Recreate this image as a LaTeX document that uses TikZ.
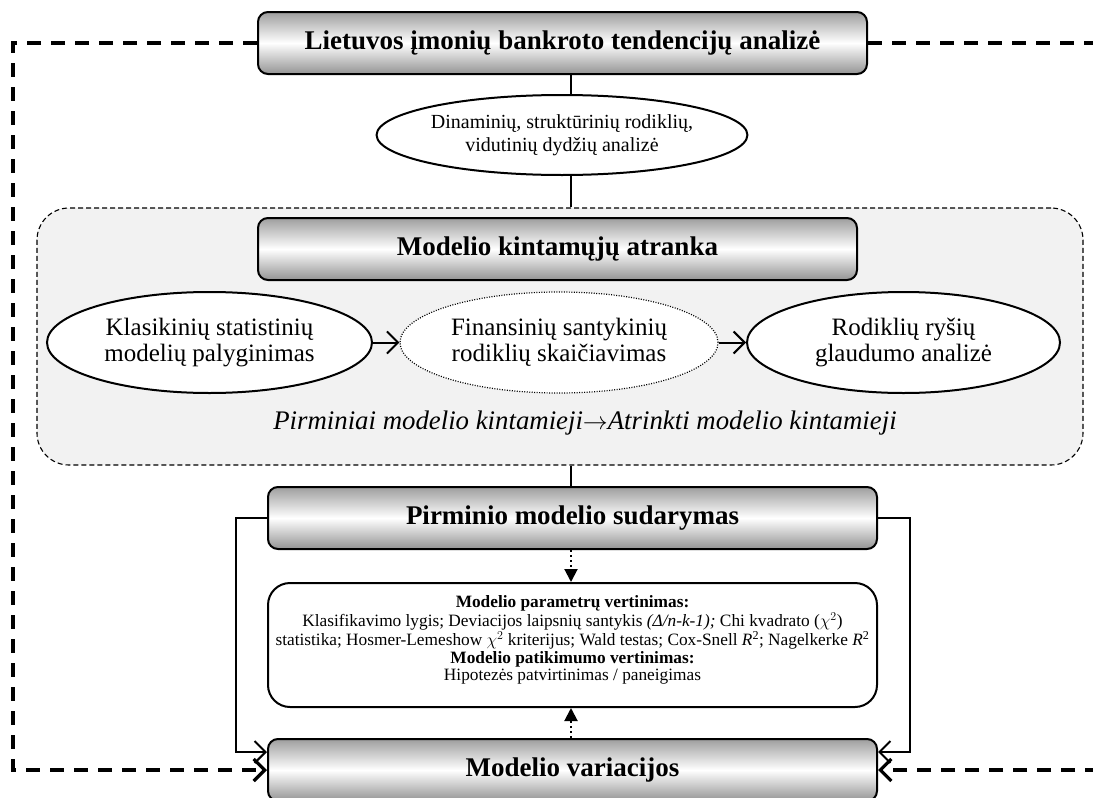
\documentclass[tikz,border=0pt]{standalone}
\usepackage{fontspec}
\setmainfont{Liberation Serif}
\usetikzlibrary{arrows.meta,shapes.geometric,calc}

\tikzset{
  gradbox/.style={draw=black, line width=2pt, rounded corners=10pt,
    top color=black!38, bottom color=black!42, middle color=white,
    inner sep=0pt, font=\fontsize{27}{30}\selectfont\bfseries},
  oval/.style={ellipse, draw=black, line width=2pt, fill=white, align=center,
    inner sep=0pt, font=\fontsize{25}{25.5}\selectfont},
  region/.style={draw=black, line width=1.1pt, dash pattern=on 5pt off 3pt,
    rounded corners=32pt, fill=black!5, inner sep=0pt},
  evalbox/.style={draw=black, line width=2pt, rounded corners=22pt, fill=white,
    align=center, inner sep=0pt, font=\fontsize{17.3}{17.5}\selectfont},
  link/.style={draw=black, line width=2pt},
  loopline/.style={draw=black, line width=3.2pt, dash pattern=on 14pt off 10pt},
  barb/.style={-{Straight Barb[length=11pt,width=22pt]}},
  dotlink/.style={draw=black, line width=2pt, dash pattern=on 2pt off 3pt,
    -{Triangle[length=13pt,width=13pt]}},
}

\begin{document}
\begin{tikzpicture}[x=1pt,y=-1pt]
\useasboundingbox (0,0) rectangle (1093,798);

% vertical spine and turning points of the feedback loops
\coordinate (spine) at (571,0);
\coordinate (lturn) at (13,400);
\coordinate (rturn) at (1100,400);

% variable selection area
\node[region, minimum width=1046pt, minimum height=257pt] (sel) at (560,336.5) {};

% main boxes
\node[gradbox, minimum width=609pt, minimum height=62pt] (top) at (562.5,43)
  {Lietuvos įmonių bankroto tendencijų analizė};
\node[oval, minimum width=300pt, minimum height=80pt, font=\fontsize{20}{23}\selectfont]
  (dyn) at (562,135) {Dinaminių, struktūrinių rodiklių,\\vidutinių dydžių analizė};
\node[gradbox, minimum width=599pt, minimum height=62pt] (pick) at (557.5,249)
  {Modelio kintamųjų atranka};

\node[oval, minimum width=325pt, minimum height=101pt] (cls) at (209.5,342.5)
  {Klasikinių statistinių\\modelių palyginimas};
\node[oval, minimum width=318pt, minimum height=101pt, dash pattern=on 1pt off 1.5pt,
  line width=1.2pt] (fin) at (559,342.5)
  {Finansinių santykinių\\rodiklių skaičiavimas};
\node[oval, minimum width=313pt, minimum height=101pt] (rel) at (903.5,342.5)
  {Rodiklių ryšių\\glaudumo analizė};

\node[font=\fontsize{26.8}{28}\selectfont, inner sep=0pt] (note) at (585,423)
  {\textit{Pirminiai modelio kintamieji}$\rightarrow$\textit{Atrinkti modelio kintamieji}};

\node[gradbox, minimum width=609pt, minimum height=62pt] (prim) at (572.5,518)
  {Pirminio modelio sudarymas};
\node[evalbox, minimum width=609pt, minimum height=124pt] (eval) at (572.5,645)
  {\textbf{Modelio parametrų vertinimas:}\\
   Klasifikavimo lygis; Deviacijos laipsnių santykis \textit{(Δ/n-k-1);} Chi kvadrato ($\chi^2$)\\
   statistika; Hosmer-Lemeshow $\chi^2$ kriterijus; Wald testas; Cox-Snell \textit{R}\textsuperscript{2}; Nagelkerke \textit{R}\textsuperscript{2}\\
   \textbf{Modelio patikimumo vertinimas:}\\
   Hipotezės patvirtinimas / paneigimas\\[-4pt]};
\node[gradbox, minimum width=609pt, minimum height=62pt] (var) at (572.5,770)
  {Modelio variacijos};

% spine connectors
\draw[link] (top.south -| spine) -- (dyn.north -| spine);
\draw[link] (dyn.south -| spine) -- (sel.north -| spine);
\draw[link] (sel.south -| spine) -- (prim.north -| spine);
\draw[dotlink] (prim.south -| spine) -- (eval.north -| spine);
\draw[dotlink] (var.north -| spine) -- (eval.south -| spine);

% selection steps
\draw[link, barb] (cls.east) -- (fin.west);
\draw[link, barb] (fin.east) -- (rel.west);

% side loops into the variation box
\draw[link, barb] (prim.west) -- ++(-31,0) |- ($(var.north west)+(0,14)$);
\draw[link, barb] (prim.east) -- ++(32,0) |- ($(var.north east)+(0,14)$);

% dashed feedback from the top box
\draw[loopline, barb] (top.west) -| (lturn) |- (var.west);
\draw[loopline, barb] (top.east) -| (rturn) |- (var.east);
\end{tikzpicture}
\end{document}
